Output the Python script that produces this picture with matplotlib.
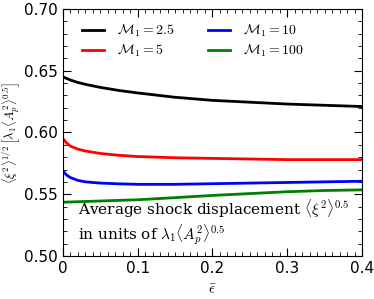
import numpy as np
import matplotlib
matplotlib.use("Agg")
import matplotlib.pyplot as plt
from matplotlib.ticker import MultipleLocator

plt.rcParams['mathtext.fontset'] = 'cm'

# data
eps = [0.0, 0.005, 0.01, 0.02, 0.03, 0.05, 0.075, 0.1, 0.15, 0.2, 0.25, 0.3, 0.35, 0.4]
m_2p5 = [0.645, 0.6438, 0.6425, 0.6405, 0.639, 0.6365, 0.634, 0.632, 0.6285, 0.626, 0.6245, 0.623, 0.622, 0.621]
m_5 = [0.595, 0.5915, 0.589, 0.5865, 0.585, 0.583, 0.5815, 0.5805, 0.5795, 0.579, 0.5785, 0.578, 0.578, 0.578]
m_10 = [0.569, 0.5655, 0.5635, 0.5612, 0.56, 0.559, 0.5584, 0.558, 0.558, 0.5585, 0.559, 0.5595, 0.560, 0.5605]
m_100 = [0.5435, 0.5436, 0.5437, 0.5439, 0.5441, 0.5445, 0.545, 0.5455, 0.5472, 0.549, 0.5505, 0.552, 0.553, 0.5535]

labels = [r'$\mathcal{M}_1=2.5$', r'$\mathcal{M}_1=5$',
          r'$\mathcal{M}_1=10$', r'$\mathcal{M}_1=100$']
colors = ['black', 'red', 'blue', 'green']

fig = plt.figure(figsize=(3.74, 2.99), dpi=100)
ax = fig.add_axes([0.168, 0.144, 0.800, 0.826])

for y, c, lab in zip([m_2p5, m_5, m_10, m_100], colors, labels):
    ax.plot(eps, y, color=c, lw=2, label=lab)

ax.set_xlim(0, 0.4)
ax.set_ylim(0.5, 0.7)
ax.xaxis.set_minor_locator(MultipleLocator(0.01))
ax.yaxis.set_major_locator(MultipleLocator(0.05))
ax.yaxis.set_minor_locator(MultipleLocator(0.01))
ax.set_xticks([0, 0.1, 0.2, 0.3, 0.4])
ax.set_xticklabels(['0', '0.1', '0.2', '0.3', '0.4'])
ax.tick_params(which='both', direction='in', top=True, right=True, labelsize=11)
ax.tick_params(which='major', length=6)
ax.tick_params(which='minor', length=3)

ax.set_xlabel(r'$\bar{\epsilon}$', fontsize=11)
ax.set_ylabel(r'$\langle\xi^2\rangle^{1/2}\,\left[\lambda_1\langle A_p^2\rangle^{0.5}\right]$', fontsize=9)
ax.yaxis.set_label_coords(-0.135, 0.5)

ax.legend(loc='upper left', bbox_to_anchor=(0.023, 0.996), ncol=2, frameon=False,
          fontsize=10, handlelength=1.6, columnspacing=2.4, handletextpad=0.9,
          labelspacing=0.3)

ax.text(0.05, 0.035, 'Average shock displacement $\\langle\\xi^2\\rangle^{0.5}$\n'
        'in units of $\\lambda_1\\langle A_p^2\\rangle^{0.5}$',
        transform=ax.transAxes, family='DejaVu Serif', fontsize=11,
        linespacing=1.15, va='bottom', ha='left')

fig.savefig('out.png', dpi=100)
